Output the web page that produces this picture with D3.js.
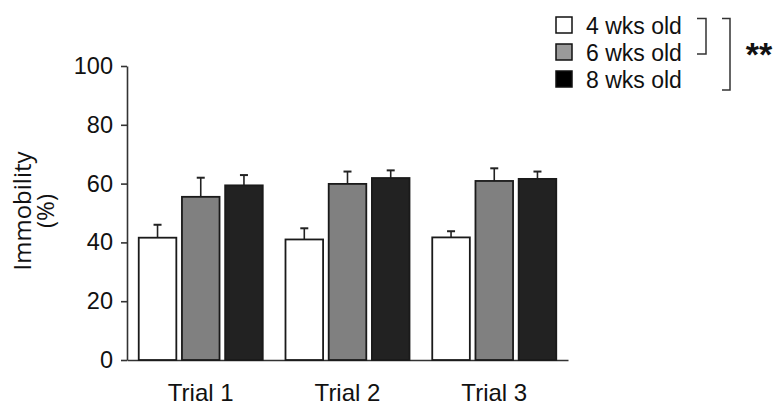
<!DOCTYPE html>
<html>
<head>
<meta charset="utf-8">
<script src="https://cdn.jsdelivr.net/npm/d3@7"></script>
<style>
  html, body { margin: 0; padding: 0; background: #fff; }
  svg { display: block; }
</style>
</head>
<body>
<svg id="chart" width="779" height="415"></svg>
<script>
// ---- data ----
const trials = ["Trial 1", "Trial 2", "Trial 3"];
const groups = ["4 wks old", "6 wks old", "8 wks old"];
const mean4 = [41.6, 41.0, 41.7];
const err4  = [4.4, 3.8, 2.1];
const mean6 = [55.5, 59.9, 60.9];
const err6  = [6.5, 4.2, 4.3];
const mean8 = [59.4, 61.9, 61.6];
const err8  = [3.5, 2.6, 2.5];
const yTicks = [0, 20, 40, 60, 80, 100];
const significance = "**";

const means = [mean4, mean6, mean8];
const errs = [err4, err6, err8];
const barFill = ["#ffffff", "#808080", "#222222"];
const legendFill = ["#ffffff", "#9a9a9a", "#000000"];

const svg = d3.select("#chart");
const font = "'Liberation Sans', Arial, sans-serif";

const y = d3.scaleLinear().domain([0, 100]).range([360, 66]);
const x0 = d3.scaleBand().domain(trials).range([127, 568]).paddingInner(0.155).paddingOuter(0.08);
const x1 = d3.scaleBand().domain(groups).range([0, x0.bandwidth()]).paddingInner(0.13);

// y axis
const yAxis = d3.axisLeft(y).tickValues(yTicks).tickSize(6).tickSizeOuter(0).tickPadding(8);
const gy = svg.append("g").attr("transform", "translate(127,0)").call(yAxis);
gy.select(".domain").attr("stroke", "#333").attr("stroke-width", 1.6);
gy.selectAll(".tick line").attr("stroke", "#333").attr("stroke-width", 1.6);
gy.selectAll(".tick text").attr("font-family", font).attr("font-size", 23.5).attr("fill", "#111");

// x axis
const xAxis = d3.axisBottom(x0).tickSize(0).tickPadding(24);
const gx = svg.append("g").attr("transform", "translate(0,360)").call(xAxis);
gx.select(".domain").attr("stroke", "#333").attr("stroke-width", 1.6);
gx.selectAll(".tick text").attr("font-family", font).attr("font-size", 24).attr("fill", "#111").attr("dy", "0.71em");

// bars
const data = [];
trials.forEach((t, i) => groups.forEach((g, j) => data.push({ t, g, j, v: means[j][i], e: errs[j][i] })));

const bars = svg.append("g");
// error bars
bars.selectAll("g.err").data(data).join("g").attr("class", "err").each(function (d) {
  const cx = x0(d.t) + x1(d.g) + x1.bandwidth() / 2;
  const g = d3.select(this);
  g.append("line").attr("x1", cx).attr("x2", cx).attr("y1", y(d.v)).attr("y2", y(d.v + d.e))
    .attr("stroke", "#222").attr("stroke-width", 1.6);
  g.append("line").attr("x1", cx - 4).attr("x2", cx + 4).attr("y1", y(d.v + d.e)).attr("y2", y(d.v + d.e))
    .attr("stroke", "#222").attr("stroke-width", 2);
});
bars.selectAll("rect").data(data).join("rect")
  .attr("x", d => x0(d.t) + x1(d.g))
  .attr("y", d => y(d.v))
  .attr("width", x1.bandwidth())
  .attr("height", d => y(0) - y(d.v))
  .attr("fill", d => barFill[d.j])
  .attr("stroke", "#1a1a1a")
  .attr("stroke-width", 1.8);

// y label
const yl = svg.append("g").attr("transform", "translate(0,211) rotate(-90)");
yl.append("text").attr("x", 0).attr("y", 31).attr("text-anchor", "middle")
  .attr("font-family", "'Open Sans', 'DejaVu Sans', sans-serif").attr("font-size", 24).attr("fill", "#111")
  .text("Immobility");
yl.append("text").attr("x", 0).attr("y", 54).attr("text-anchor", "middle")
  .attr("font-family", "'Open Sans', 'DejaVu Sans', sans-serif").attr("font-size", 24).attr("fill", "#111")
  .text("(%)");

// legend
const leg = svg.append("g");
groups.forEach((g, j) => {
  const cy = 25 + j * 27;
  leg.append("rect").attr("x", 556).attr("y", cy - 8).attr("width", 16).attr("height", 16)
    .attr("fill", legendFill[j]).attr("stroke", "#111").attr("stroke-width", 1.5);
  leg.append("text").attr("x", 586).attr("y", cy + 9).attr("font-family", font).attr("font-size", 23)
    .attr("fill", "#111").text(g);
});

// brackets
leg.append("path").attr("d", "M697,18.5H706V54H697").attr("fill", "none").attr("stroke", "#333").attr("stroke-width", 1.5);
leg.append("path").attr("d", "M722,18.5H730V90H722").attr("fill", "none").attr("stroke", "#333").attr("stroke-width", 1.5);
leg.append("text").attr("x", 759).attr("y", 66).attr("text-anchor", "middle").attr("font-family", font)
  .attr("font-weight", "bold").attr("font-size", 34).attr("fill", "#111").text(significance);
</script>
</body>
</html>
